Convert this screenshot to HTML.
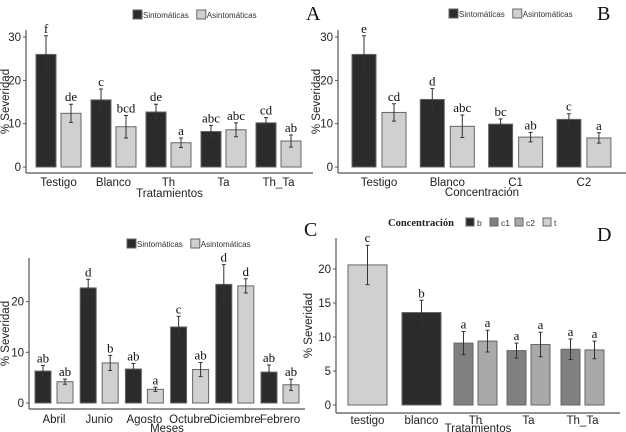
<!DOCTYPE html>
<html><head><meta charset="utf-8"><style>
body{margin:0;background:#fff}
svg{display:block;font-family:"Liberation Sans",sans-serif}
.tk{font-size:11.5px;fill:#222}
.lt{font-family:"Liberation Serif",serif;font-size:13px;fill:#111}
.pl{font-family:"Liberation Serif",serif;font-size:20px;fill:#111}
</style></head><body>
<svg id="c" width="626" height="432"></svg>
<script>
const aCats=["Testigo","Blanco","Th","Ta","Th_Ta"];
const aSint=[26,15.5,12.7,8.2,10.2];
const aSintErr=[4.3,2.5,1.8,1.4,1.2];
const aAsin=[12.4,9.3,5.6,8.6,6.0];
const aAsinErr=[2.1,2.6,1.1,1.6,1.4];
const aSintLet=["f","c","de","abc","cd"];
const aAsinLet=["de","bcd","a","abc","ab"];
const aTicks=[0,10,20,30];

const bCats=["Testigo","Blanco","C1","C2"];
const bSint=[26,15.6,9.9,11];
const bSintErr=[4.3,2.5,1.2,1.3];
const bAsin=[12.6,9.4,6.9,6.7];
const bAsinErr=[2.0,2.6,1.1,1.2];
const bSintLet=["e","d","bc","c"];
const bAsinLet=["cd","abc","ab","a"];
const bTicks=[0,10,20,30];

const cCats=["Abril","Junio","Agosto","Octubre","Diciembre","Febrero"];
const cSint=[6.3,22.7,6.7,15,23.4,6.1];
const cSintErr=[1.1,1.7,1.1,2.1,3.9,1.4];
const cAsin=[4.2,7.9,2.7,6.6,23.1,3.6];
const cAsinErr=[0.5,1.5,0.4,1.4,1.4,1.1];
const cSintLet=["ab","d","ab","c","d","ab"];
const cAsinLet=["ab","b","a","ab","d","ab"];
const cTicks=[0,10,20];

const dCats=["testigo","blanco","Th","Ta","Th_Ta"];
const dVals=[[20.6],[13.6],[9.1,9.4],[8.0,8.9],[8.2,8.1]];
const dErr=[[2.9],[1.8],[1.7,1.6],[1.1,1.8],[1.5,1.3]];
const dKeys=[["t"],["b"],["c1","c2"],["c1","c2"],["c1","c2"]];
const dLet=[["c"],["b"],["a","a"],["a","a"],["a","a"]];
const dTicks=[0,5,10,15,20];
const dLegend=["b","c1","c2","t"];

const NS="http://www.w3.org/2000/svg";
const svg=document.getElementById("c");
function mk(t,a,txt,parent){const e=document.createElementNS(NS,t);for(const k in a)e.setAttribute(k,a[k]);if(txt!=null)e.textContent=txt;(parent||svg).appendChild(e);return e;}
const DARK="#2b2b2b",LIGHT="#d0d0d0";
const dCol={b:"#2b2b2b",c1:"#808080",c2:"#a9a9a9",t:"#d0d0d0"};

function axes(g,x0,x1,yAxisTop,xAxisY,yScale,ticks,xtitle,ttlY,ytx){
  const ya=mk("line",{x1:x0,x2:x0,y1:yAxisTop,y2:xAxisY,stroke:"#555","stroke-width":1.2},null,g);
  
  
  const xa=mk("line",{x1:x0,x2:x1,y1:xAxisY,y2:xAxisY,stroke:"#555","stroke-width":1.2},null,g);
  
  
  ticks.forEach(t=>{const y=yScale(t);
    const l=mk("line",{x1:x0-3,x2:x0,y1:y,y2:y,stroke:"#555"},null,g);
    
    
    const tx=mk("text",{x:x0-5,y:y+4,"text-anchor":"end",class:"tk"},t,g);
    
    
  });
  const yt=mk("text",{transform:`translate(${ytx},${(yAxisTop+xAxisY)/2}) rotate(-90)`,"text-anchor":"middle",class:"tk"},"% Severidad",g);
  
  
  const xt=mk("text",{x:(x0+x1)/2,y:ttlY,"text-anchor":"middle",class:"tk"},xtitle,g);
  
  
}
function bar(g,x,w,v,e,col,yS,lab){
  const r=mk("rect",{x:x,y:yS(v),width:w,height:yS(0)-yS(v),fill:col,stroke:"#666","stroke-width":1},null,g);
  
  
  const cx=x+w/2;
  const eb=mk("path",{d:`M${cx},${yS(v+e)}V${yS(v-e)}M${cx-2},${yS(v+e)}H${cx+2}M${cx-2},${yS(v-e)}H${cx+2}`,stroke:"#333",fill:"none","stroke-width":1},null,g);
  
  
  const t=mk("text",{x:cx,y:yS(v+e)-3,"text-anchor":"middle",class:"lt"},lab,g);
  
  
}
function legend2(g,x,y){
  const items=[["Sintomáticas",DARK],["Asintomáticas",LIGHT]];
  let cx=x;
  items.forEach(([n,c])=>{
    const r=mk("rect",{x:cx,y:y-5,width:9,height:9,fill:c,stroke:"#666"},null,g);
    
    
    const t=mk("text",{x:cx+10,y:y+3,style:"font-size:8px",fill:"#333"},n,g);
    
    
    cx+=11+n.length*4.4;
  });
}
function panel(name,o){
  const g=mk("g",{});
  
  
  const yS=v=>o.zero-v*o.ppu;
  axes(g,o.x0,o.x1,o.top,o.xAxisY,yS,o.ticks,o.xtitle,o.ttlY,o.ytx);
  o.cats.forEach((c,i)=>{
    const gx=o.first+i*o.step;
    bar(g,gx,o.w,o.s[i],o.se[i],DARK,yS,o.sl[i]);
    bar(g,gx+o.w+o.gap,o.w,o.a[i],o.ae[i],LIGHT,yS,o.al[i]);
    const t=mk("text",{x:gx+o.w+o.gap/2,y:o.tkY,"text-anchor":"middle",class:"tk"},c,g);
    
    
  });
  legend2(g,o.lx,o.ly);
  return g;
}
panel("panel-a",{x0:26,x1:313,zero:167,ppu:4.33,top:30,xAxisY:173,ticks:aTicks,xtitle:"Tratamientos",ttlY:197,tkY:186,ytx:9,
  cats:aCats,s:aSint,se:aSintErr,a:aAsin,ae:aAsinErr,sl:aSintLet,al:aAsinLet,first:36,step:55,w:20,gap:5,lx:133,ly:15});
panel("panel-b",{x0:338,x1:626,zero:167,ppu:4.33,top:30,xAxisY:173,ticks:bTicks,xtitle:"Concentración",ttlY:196,tkY:186,ytx:320,
  cats:bCats,s:bSint,se:bSintErr,a:bAsin,ae:bAsinErr,sl:bSintLet,al:bAsinLet,first:352,step:68.3,w:24,gap:6,lx:449,ly:14});
panel("panel-c",{x0:29,x1:305,zero:403,ppu:5.07,top:258,xAxisY:409,ticks:cTicks,xtitle:"Meses",ttlY:432,tkY:423,ytx:9,
  cats:cCats,s:cSint,se:cSintErr,a:cAsin,ae:cAsinErr,sl:cSintLet,al:cAsinLet,first:35,step:45.2,w:16,gap:6,lx:127,ly:244});

// Panel D
(function(){
  const g=mk("g",{});
  
  
  const zero=405,ppu=6.8,x0=336,x1=620,xAxisY=413;
  const yS=v=>zero-v*ppu;
  axes(g,x0,x1,238,xAxisY,yS,dTicks,"Tratamientos",432,312);
  const starts=[348,402,454,507,561];
  dCats.forEach((c,i)=>{
    const n=dVals[i].length;
    const w=n===1?39:19, gap=5;
    dVals[i].forEach((v,j)=>{
      bar(g,starts[i]+j*(w+gap),w,v,dErr[i][j],dCol[dKeys[i][j]],yS,dLet[i][j]);
    });
    const tw=n*w+(n-1)*gap;
    const t=mk("text",{x:starts[i]+tw/2,y:xAxisY+11,"text-anchor":"middle",class:"tk"},c,g);
    
    
  });
  const lt=mk("text",{x:388,y:226,style:"font-family:'Liberation Serif',serif;font-weight:bold;font-size:10.5px",fill:"#222"},"Concentración",g);
  
  
  const lx=[466,490,515,543];
  dLegend.forEach((k,i)=>{
    const r=mk("rect",{x:lx[i],y:218,width:8,height:8,fill:dCol[k],stroke:"#666"},null,g);
    
    
    const t=mk("text",{x:lx[i]+11,y:226,style:"font-size:8.5px",fill:"#333"},k,g);
    
    
  });
})();

[["A",306,20],["B",597,20],["C",304,236],["D",597,241]].forEach(([t,x,y])=>{
  const e=mk("text",{x:x,y:y,class:"pl"},t);
  
  
});
</script>
</body></html>
